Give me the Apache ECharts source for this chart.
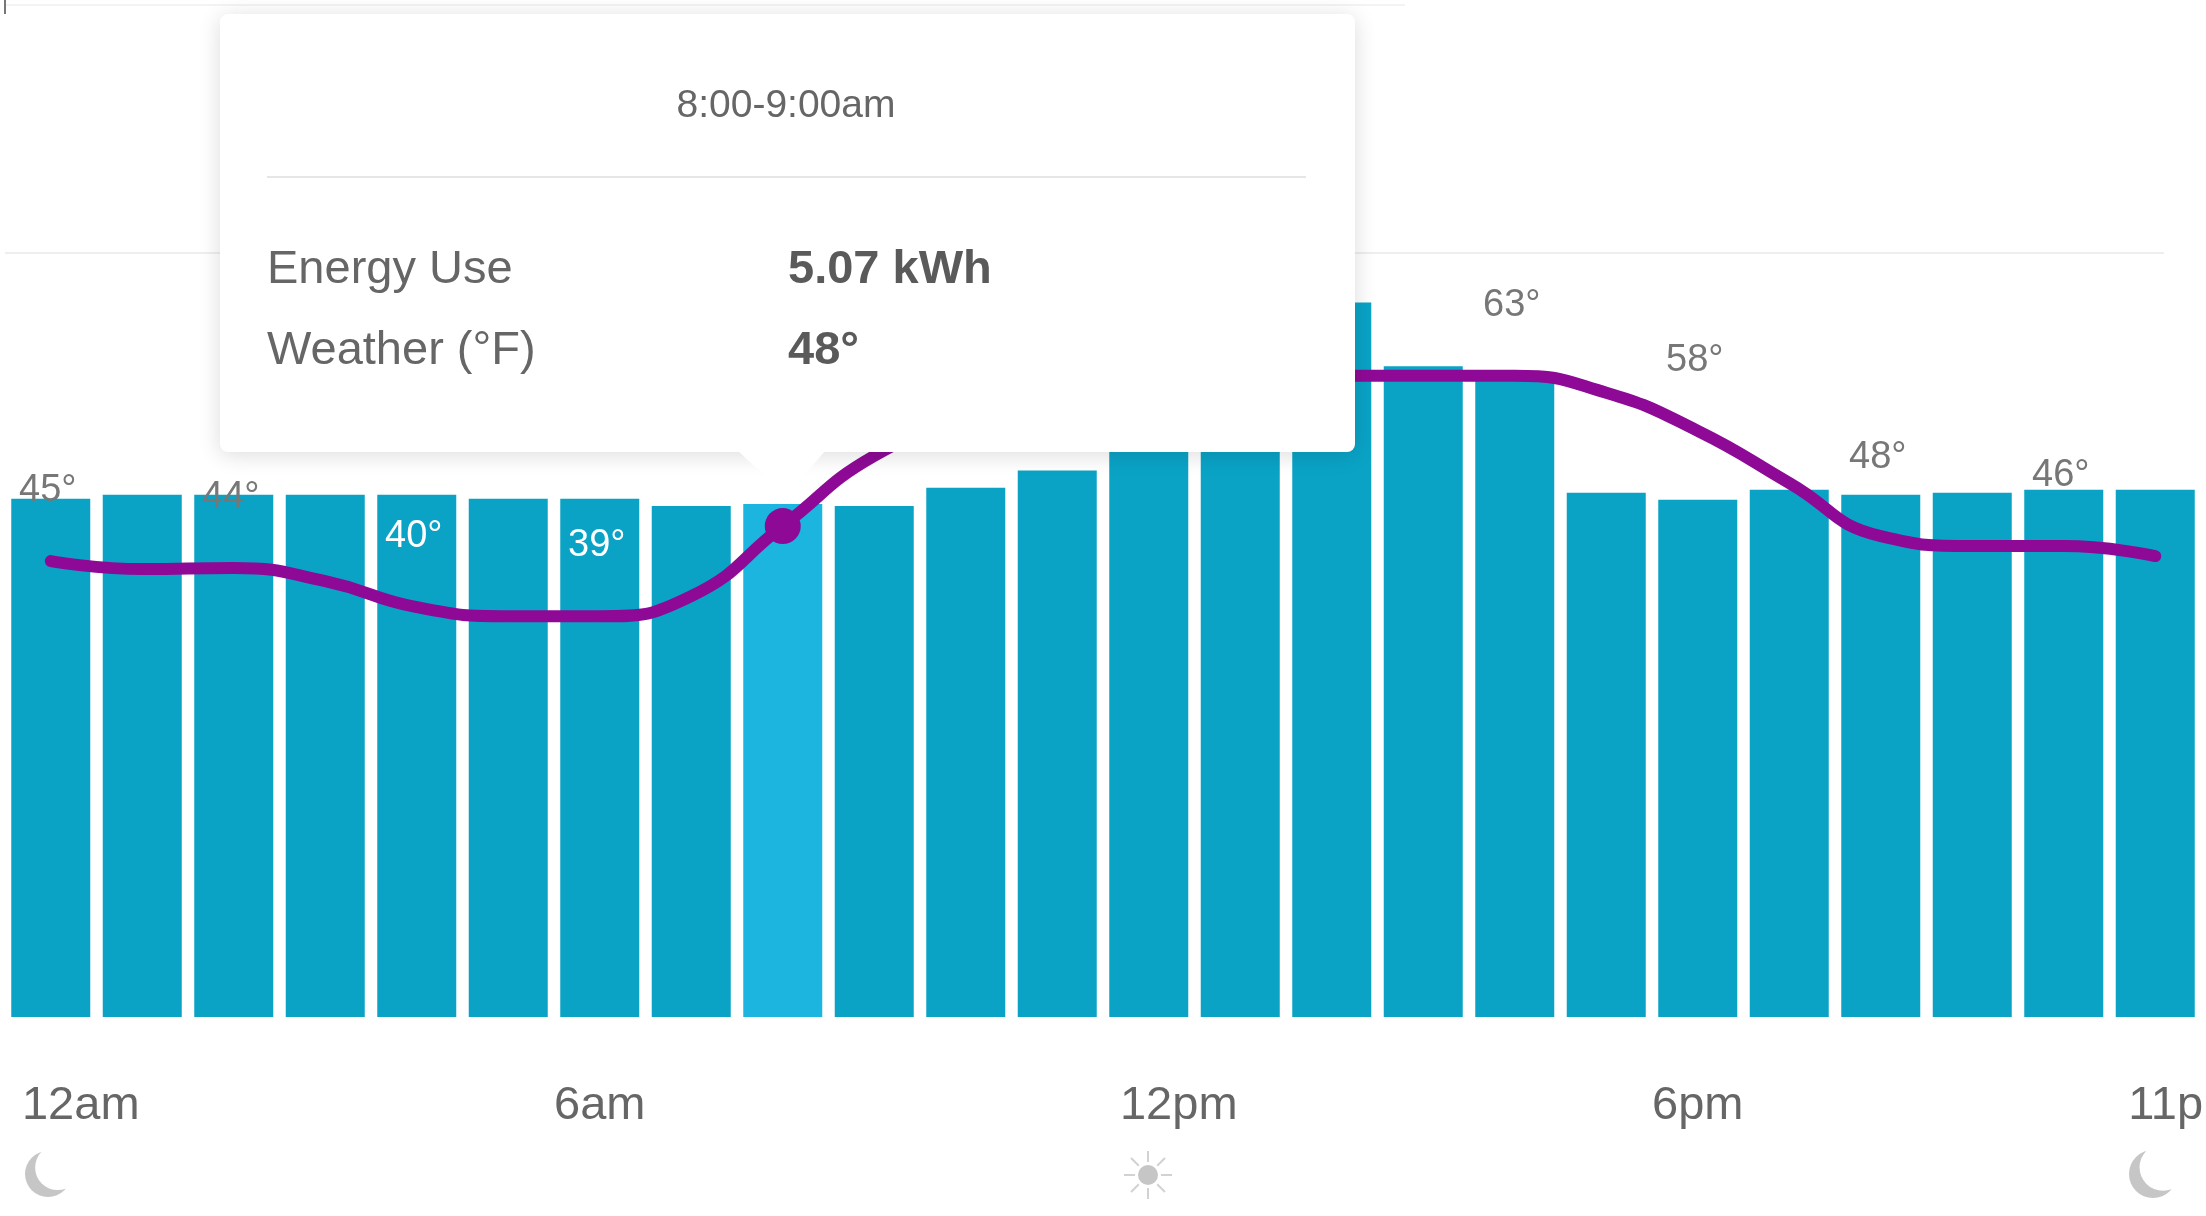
<!DOCTYPE html>
<html>
<head>
<meta charset="utf-8">
<style>html,body{margin:0;padding:0;background:#fff}#c{width:2206px;height:1216px}</style>
<script src="https://cdn.jsdelivr.net/npm/echarts@6/dist/echarts.min.js"></script>
</head>
<body>
<div id="c"></div>
<script>
const hours = ['12am','1am','2am','3am','4am','5am','6am','7am','8am','9am','10am','11am','12pm','1pm','2pm','3pm','4pm','5pm','6pm','7pm','8pm','9pm','10pm','11pm'];
const energyKwh = [5.12,5.16,5.16,5.16,5.16,5.12,5.12,5.05,5.07,5.05,5.23,5.4,5.6,5.9,7.06,6.43,6.33,5.18,5.11,5.21,5.16,5.18,5.21,5.21];
const tempF = [44.5,43.7,43.8,42.5,39.9,39,39,41,48,55,58.5,60.5,62,63,63,63,63,61.3,57.5,52.3,47,46,46,45];
const tempLabels = {'12am':45,'2am':44,'4am':40,'6am':39,'4pm':63,'6pm':58,'8pm':48,'10pm':46};
const tickLabels = ['12am','6am','12pm','6pm','11pm'];
const shiftedTicks = ['12am','12pm','11pm'];
const tempLabelsOnBar = ['4am','6am'];
const activeHour = '8am';
const gridValues = [7.55, 10];
const tooltipTitle = '8:00-9:00am';
const tooltipRows = [['Energy Use','5.07 kWh'],['Weather (\u00b0F)','48\u00b0']];

const FONT = '"Liberation Sans", Arial, sans-serif';
const chart = echarts.init(document.getElementById('c'));
chart.setOption({
  animation: false,
  backgroundColor: '#ffffff',
  grid: {left: 5, right: 5, top: 5, bottom: 199, containLabel: false, outerBoundsMode: 'none'},
  xAxis: {
    type: 'category', data: hours,
    axisLine: {show: false}, axisTick: {show: false},
    axisLabel: {
      interval: 0, margin: 66, hideOverlap: false,
      formatter: v => tickLabels.includes(v) ? (shiftedTicks.includes(v) ? '{s|' + v + '}' : '{c|' + v + '}') : '',
      rich: {
        c: {fontFamily: FONT, fontSize: 47, color: '#666666'},
        s: {fontFamily: FONT, fontSize: 47, color: '#666666', padding: [0, 0, 0, 60]}
      }
    }
  },
  yAxis: [
    {type: 'value', min: 0, max: 10, show: false, splitLine: {show: false}},
    {type: 'value', min: -1, max: 100, show: false, splitLine: {show: false}}
  ],
  series: [
    {
      type: 'bar', barWidth: 79, yAxisIndex: 0, z: 2,
      data: energyKwh.map((v, i) => hours[i] === activeHour
        ? {value: v, itemStyle: {color: '#1cb5e0'}} : v),
      itemStyle: {color: '#0aa3c6'}
    },
    {
      type: 'line', yAxisIndex: 1, z: 3,
      smooth: 0.5, symbol: 'circle', symbolSize: 1, showSymbol: true, showAllSymbol: true,
      itemStyle: {color: '#8e0a96'},
      lineStyle: {color: '#8e0a96', width: 12, cap: 'round'},
      data: tempF.map((v, i) => {
        const h = hours[i];
        const item = {value: v};
        if (h === activeHour) item.symbolSize = 36;
        if (h in tempLabels) {
          item.label = {
            show: true, position: 'top', distance: h === '8pm' ? 59 : 51,
            offset: [-3, 0],
            formatter: tempLabels[h] + '\u00b0',
            fontFamily: FONT, fontSize: 38,
            color: tempLabelsOnBar.includes(h) ? '#ffffff' : '#777777'
          };
        }
        return item;
      })
    }
  ]
});

const gridY = gridValues.map(v => chart.convertToPixel({yAxisIndex: 0}, v));
const text = (x, y, t, o) => ({type: 'text', x, y, z: 101, style: Object.assign({
  text: t, fontFamily: FONT, fontSize: 47, fill: '#666666', verticalAlign: 'middle'
}, o || {})});
const moon = (cx, cy, r) => [
  {type: 'circle', z: 5, shape: {cx, cy, r}, style: {fill: '#c6c6c6'}},
  {type: 'circle', z: 6, shape: {cx: cx + r * 0.42, cy: cy - r * 0.28, r: r * 0.98}, style: {fill: '#ffffff'}}
];
const sunX = 1148, sunY = 1175;
const rays = [0,1,2,3,4,5,6,7].map(k => {
  const a = k * Math.PI / 4;
  return {type: 'line', z: 5, shape: {
    x1: sunX + 13 * Math.cos(a), y1: sunY + 13 * Math.sin(a),
    x2: sunX + 24 * Math.cos(a), y2: sunY + 24 * Math.sin(a)
  }, style: {stroke: '#d2d2d2', lineWidth: 2}};
});
chart.setOption({graphic: {elements: [
  {type: 'line', z: 1, shape: {x1: 5, y1: gridY[0], x2: 2164, y2: gridY[0]}, style: {stroke: '#eeeeee', lineWidth: 2}},
  {type: 'line', z: 1, shape: {x1: 5, y1: gridY[1], x2: 1405, y2: gridY[1]}, style: {stroke: '#f3f3f3', lineWidth: 2}},
  {type: 'line', z: 1, shape: {x1: 5, y1: 0, x2: 5, y2: 14}, style: {stroke: '#777777', lineWidth: 2}},
  ...moon(48, 1174, 23), ...moon(2153, 1174, 24),
  {type: 'circle', z: 5, shape: {cx: sunX, cy: sunY, r: 10}, style: {fill: '#c6c6c6'}},
  ...rays,
  {type: 'rect', z: 99, shape: {x: 220, y: 14, width: 1135, height: 438, r: 8},
    style: {fill: '#ffffff', shadowBlur: 22, shadowColor: 'rgba(0,0,0,0.14)', shadowOffsetY: 3}},
  {type: 'polygon', z: 100, shape: {points: [[737, 450], [826, 450], [786, 496]]}, style: {fill: '#ffffff'}},
  {type: 'line', z: 101, shape: {x1: 267, y1: 177, x2: 1306, y2: 177}, style: {stroke: '#e6e6e6', lineWidth: 2}},
  text(786, 106, tooltipTitle, {fontSize: 39, align: 'center'}),
  text(267, 270, tooltipRows[0][0]),
  text(788, 270, tooltipRows[0][1], {fontWeight: 'bold', fill: '#5a5a5a'}),
  text(267, 351, tooltipRows[1][0]),
  text(788, 351, tooltipRows[1][1], {fontWeight: 'bold', fill: '#5a5a5a'})
]}});
</script>
</body>
</html>
